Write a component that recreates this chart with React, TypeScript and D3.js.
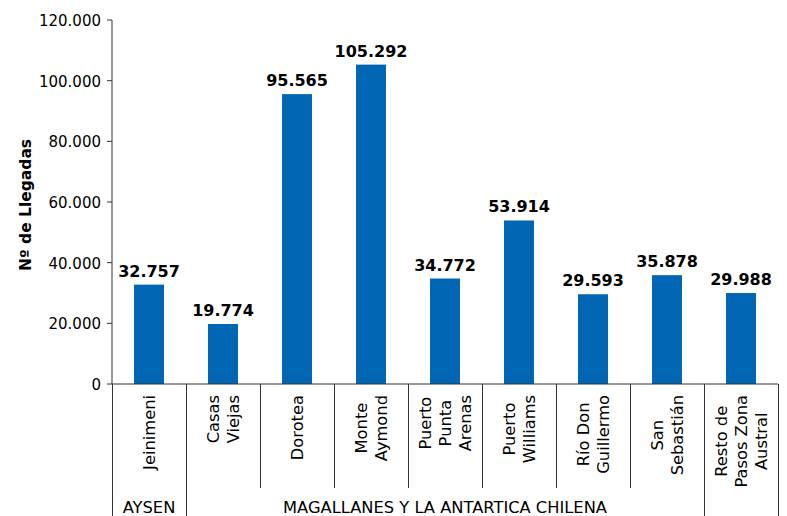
import React, { useEffect, useRef } from "react";
import * as d3 from "d3";

const categories = [
  "Jeinimeni",
  "Casas Viejas",
  "Dorotea",
  "Monte Aymond",
  "Puerto Punta Arenas",
  "Puerto Williams",
  "Río Don Guillermo",
  "San Sebastián",
  "Resto de Pasos Zona Austral",
];
const labelLines = [
  ["Jeinimeni"],
  ["Casas", "Viejas"],
  ["Dorotea"],
  ["Monte", "Aymond"],
  ["Puerto", "Punta", "Arenas"],
  ["Puerto", "Williams"],
  ["Río Don", "Guillermo"],
  ["San", "Sebastián"],
  ["Resto de", "Pasos Zona", "Austral"],
];
const values = [32757, 19774, 95565, 105292, 34772, 53914, 29593, 35878, 29988];
const groupNames = ["AYSEN", "MAGALLANES Y LA ANTARTICA CHILENA", ""];
const groupSizes = [1, 7, 1];
const yTicks = [0, 20000, 40000, 60000, 80000, 100000, 120000];
const yTitle = "Nº de Llegadas";

const W = 787;
const H = 516;
const FONT = "'DejaVu Sans', Verdana, sans-serif";

export default function App() {
  const ref = useRef<SVGSVGElement>(null);

  useEffect(() => {
    const svg = d3.select(ref.current);
    svg.selectAll("*").remove();

    const left = 112, right = 778, top = 20, bottom = 384;
    const x = d3.scaleBand<string>().domain(categories).range([left, right]).padding(0);
    const y = d3.scaleLinear().domain([0, 120000]).range([bottom, top]);
    const locale = d3.formatLocale({ decimal: ",", thousands: ".", grouping: [3], currency: ["$", ""] });
    const fmt = locale.format(",d");
    const barW = x.bandwidth() * 0.405;
    const axisColor = "#333";

    // bars
    svg.append("g")
      .selectAll("rect")
      .data(values)
      .join("rect")
      .attr("x", (_, i) => x(categories[i])! + x.bandwidth() / 2 - barW / 2)
      .attr("width", barW)
      .attr("y", (d) => y(d))
      .attr("height", (d) => bottom - y(d))
      .attr("fill", "#0066b3");

    // bar labels
    svg.append("g")
      .selectAll("text")
      .data(values)
      .join("text")
      .attr("x", (_, i) => x(categories[i])! + x.bandwidth() / 2)
      .attr("y", (d) => y(d) - 8)
      .attr("text-anchor", "middle")
      .attr("font-family", FONT)
      .attr("font-weight", "bold")
      .attr("font-size", 16)
      .attr("fill", "#000")
      .text((d) => fmt(d));

    // y axis
    const ya = svg.append("g");
    ya.append("line").attr("x1", left).attr("x2", left).attr("y1", top).attr("y2", bottom)
      .attr("stroke", axisColor).attr("stroke-width", 1);
    ya.selectAll("line.t").data(yTicks).join("line").attr("class", "t")
      .attr("x1", left - 5).attr("x2", left).attr("y1", (d) => y(d)).attr("y2", (d) => y(d))
      .attr("stroke", axisColor);
    ya.selectAll("text").data(yTicks).join("text")
      .attr("x", 101).attr("y", (d) => y(d) + 6)
      .attr("text-anchor", "end")
      .attr("font-family", FONT).attr("font-size", 15).attr("fill", "#000")
      .text((d) => fmt(d));

    svg.append("text")
      .attr("transform", `translate(31,205) rotate(-90)`)
      .attr("text-anchor", "middle")
      .attr("font-family", FONT).attr("font-weight", "bold").attr("font-size", 15.5)
      .attr("fill", "#000")
      .text(yTitle);

    // x axis line
    svg.append("line").attr("x1", left).attr("x2", right).attr("y1", bottom).attr("y2", bottom)
      .attr("stroke", axisColor);

    // divider lines
    const boundaries = new Set<number>();
    let acc = 0;
    boundaries.add(0);
    groupSizes.forEach((s) => { acc += s; boundaries.add(acc); });
    for (let i = 0; i <= categories.length; i++) {
      const xx = Math.round(left + i * x.step()) + 0.5;
      const full = boundaries.has(i);
      svg.append("line").attr("x1", xx).attr("x2", xx)
        .attr("y1", bottom).attr("y2", full ? H : 488)
        .attr("stroke", axisColor);
    }

    // category labels
    const lineH = 20;
    categories.forEach((c, i) => {
      const cx = x(c)! + x.bandwidth() / 2;
      const lines = labelLines[i];
      const g = svg.append("g").attr("transform", `translate(${cx},395) rotate(-90)`);
      const texts = lines.map((ln, j) =>
        g.append("text")
          .attr("y", (j - (lines.length - 1) / 2) * lineH + 6)
          .attr("text-anchor", "middle")
          .attr("font-family", FONT).attr("font-size", 16.3).attr("fill", "#000")
          .text(ln)
      );
      const maxW = d3.max(texts, (t) => (t.node() as SVGTextElement).getComputedTextLength()) || 0;
      texts.forEach((t) => t.attr("x", -maxW / 2));
    });

    // group labels
    let start = 0;
    groupSizes.forEach((s, gi) => {
      const x0 = left + start * x.step();
      const x1 = left + (start + s) * x.step();
      svg.append("text")
        .attr("x", (x0 + x1) / 2).attr("y", 513)
        .attr("text-anchor", "middle")
        .attr("font-family", FONT).attr("font-size", 16.3).attr("fill", "#000")
        .text(groupNames[gi]);
      start += s;
    });
  }, []);

  return (
    <svg
      ref={ref}
      width={W}
      height={H}
      style={{ position: "absolute", left: 0, top: 0, background: "#fff" }}
    />
  );
}
